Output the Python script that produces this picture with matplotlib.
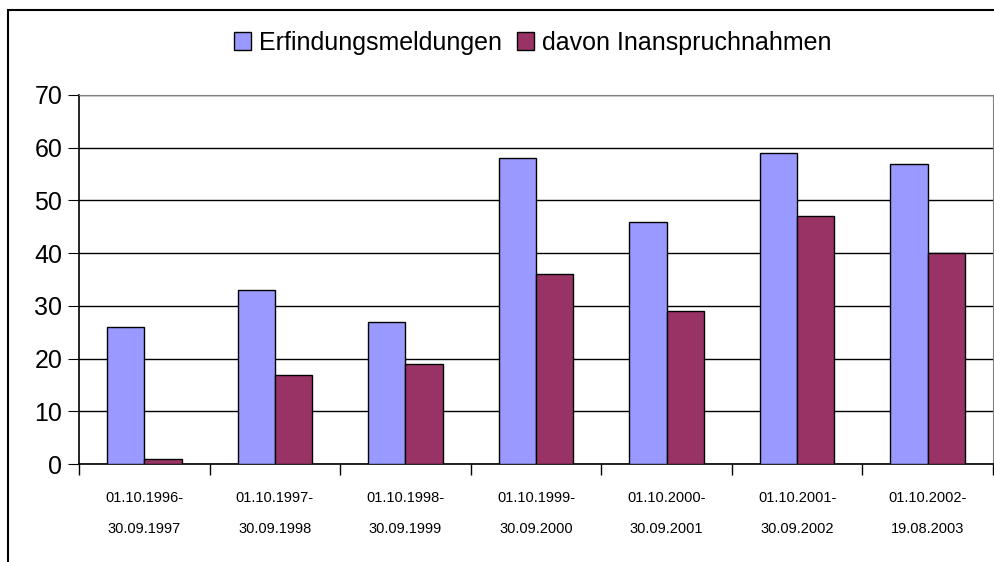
import matplotlib.pyplot as plt
from matplotlib.patches import Rectangle
import numpy as np

plt.rcParams['font.family'] = ['Liberation Sans', 'DejaVu Sans']

periods = ["01.10.1996-\n30.09.1997", "01.10.1997-\n30.09.1998", "01.10.1998-\n30.09.1999",
           "01.10.1999-\n30.09.2000", "01.10.2000-\n30.09.2001", "01.10.2001-\n30.09.2002",
           "01.10.2002-\n19.08.2003"]
meldungen = [26, 33, 27, 58, 46, 59, 57]
inanspruchnahmen = [1, 17, 19, 36, 29, 47, 40]

fig = plt.figure(figsize=(9.95, 5.62), dpi=100)
ax = fig.add_axes([0.0794, 0.174, 0.9186, 0.657])

x = np.arange(len(periods))
w = 0.2857
ax.bar(x - w / 2, meldungen, w, color='#9999FF', edgecolor='black', linewidth=1,
       label='Erfindungsmeldungen', zorder=3)
ax.bar(x + w / 2, inanspruchnahmen, w, color='#993366', edgecolor='black', linewidth=1,
       label='davon Inanspruchnahmen', zorder=3)

ax.set_xlim(-0.5, len(periods) - 0.5)
ax.set_ylim(0, 70)
ax.set_yticks(range(0, 71, 10))
ax.tick_params(axis='y', labelsize=18, length=8, direction='out', pad=4)
ax.yaxis.grid(True, color='black', linewidth=1, zorder=0)

# category labels without ticks, separator ticks between categories
ax.set_xticks(x)
ax.set_xticklabels(periods, fontsize=10.5, linespacing=2.6)
ax.tick_params(axis='x', which='major', length=0, pad=19)
ax.set_xticks(np.arange(-0.5, len(periods), 1), minor=True)
ax.tick_params(axis='x', which='minor', length=8, direction='out', width=1)

for s in ['top', 'right']:
    ax.spines[s].set_color('#808080')
for s in ['left', 'bottom']:
    ax.spines[s].set_color('black')
    ax.spines[s].set_linewidth(1.2)

fig.legend(loc='upper center', bbox_to_anchor=(0.535, 0.985), ncol=2, frameon=False,
           fontsize=18, handlelength=0.7, handleheight=0.7, handletextpad=0.3,
           columnspacing=0.6)

# outer chart border
fig.patches.append(Rectangle((0.008, -0.1), 1.1, 1.082, transform=fig.transFigure,
                             fill=False, edgecolor='black', linewidth=1.5))

fig.savefig('out.png', dpi=100)
